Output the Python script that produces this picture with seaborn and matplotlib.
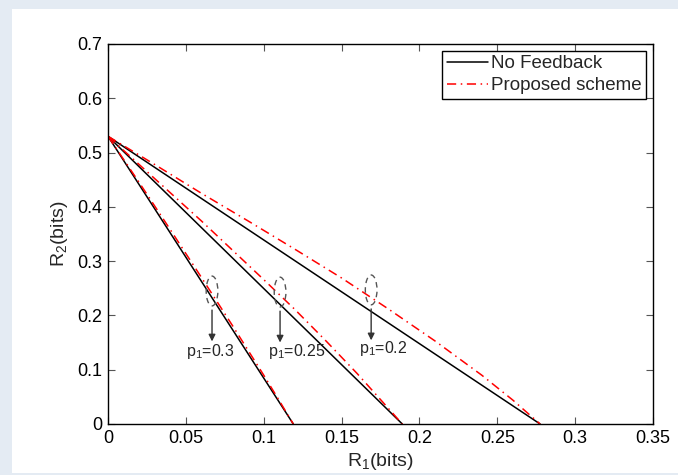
import numpy as np
import pandas as pd
import matplotlib.pyplot as plt
import seaborn as sns
from matplotlib.patches import Ellipse, Rectangle

# endepunkter for de lige linjer (uden feedback)
r2_start = 0.53
p_values = [0.3, 0.25, 0.2]
nf_end = [0.119, 0.189, 0.2775]

# foreslået skema
ps_x_03 = [0, 0.02, 0.04, 0.06, 0.08, 0.10, 0.11, 0.119]
ps_y_03 = [0.53, 0.445, 0.358, 0.270, 0.181, 0.090, 0.043, 0]
ps_x_025 = [0, 0.02, 0.04, 0.06, 0.08, 0.10, 0.12, 0.14, 0.16, 0.175, 0.189]
ps_y_025 = [0.53, 0.478, 0.426, 0.374, 0.320, 0.266, 0.211, 0.153, 0.093, 0.045, 0]
ps_x_02 = [0, 0.03, 0.06, 0.09, 0.12, 0.15, 0.18, 0.21, 0.24, 0.26, 0.2775]
ps_y_02 = [0.53, 0.478, 0.425, 0.374, 0.322, 0.269, 0.212, 0.153, 0.090, 0.044, 0]

# annotationer: ellipse-centre og tekst
ann_x = [0.0668, 0.1105, 0.169]
ann_y = [0.245, 0.243, 0.247]
ann_labels = ["p$_1$=0.3", "p$_1$=0.25", "p$_1$=0.2"]
ann_text_x = [0.0655, 0.1215, 0.177]
ann_text_y = [0.133, 0.133, 0.140]

sns.set_theme(style="ticks")
plt.rcParams["font.family"] = ["Liberation Sans", "DejaVu Sans"]
plt.rcParams["mathtext.fontset"] = "custom"
plt.rcParams["mathtext.rm"] = "Liberation Sans"
plt.rcParams["mathtext.it"] = "Liberation Sans"

fig = plt.figure(figsize=(6.78, 4.75), dpi=100, facecolor="#e4ebf3")
fig.patches.append(Rectangle((12 / 678, 2 / 475), 1, 1 - 11 / 475,
                             transform=fig.transFigure, facecolor="white",
                             edgecolor="none", zorder=-10))
ax = fig.add_axes([108 / 678, 1 - 424 / 475, 545 / 678, 380 / 475])
ax.set_zorder(5)

for i, end in enumerate(nf_end):
    df = pd.DataFrame({"x": [0, end], "y": [r2_start, 0]})
    sns.lineplot(data=df, x="x", y="y", ax=ax, color="black", lw=1.1,
                 label="No Feedback" if i == 0 else None, sort=False)

for i, (xs, ys) in enumerate([(ps_x_03, ps_y_03), (ps_x_025, ps_y_025), (ps_x_02, ps_y_02)]):
    df = pd.DataFrame({"x": xs, "y": ys})
    sns.lineplot(data=df, x="x", y="y", ax=ax, color="red", lw=1.1,
                 linestyle=(0, (6, 3, 1, 3)),
                 label="Proposed scheme" if i == 0 else None, sort=False)

for cx, cy, lab, tx, ty in zip(ann_x, ann_y, ann_labels, ann_text_x, ann_text_y):
    ax.add_patch(Ellipse((cx, cy), 0.0075, 0.055, fill=False, edgecolor="#555555",
                         linestyle=(0, (4, 3)), lw=1.0, zorder=5))
    ax.annotate("", xy=(cx, cy - 0.098), xytext=(cx, cy - 0.03),
                arrowprops=dict(arrowstyle="-|>", color="#333333", lw=1.0,
                                mutation_scale=10))
    ax.text(tx, ty, lab, ha="center", va="center", fontsize=11.5)

ax.set_xlim(0, 0.35)
ax.set_ylim(0, 0.7)
ax.set_xticks([0, 0.05, 0.1, 0.15, 0.2, 0.25, 0.3, 0.35])
ax.set_xticklabels(["0", "0.05", "0.1", "0.15", "0.2", "0.25", "0.3", "0.35"])
ax.set_yticks([0, 0.1, 0.2, 0.3, 0.4, 0.5, 0.6, 0.7])
ax.set_yticklabels(["0", "0.1", "0.2", "0.3", "0.4", "0.5", "0.6", "0.7"])
ax.tick_params(direction="in", top=True, right=True, length=5, width=0.8,
               labelsize=13, color="#555555", labelcolor="black", pad=4)
for s in ax.spines.values():
    s.set_visible(True)
    s.set_linewidth(1.0)
    s.set_color("black")

ax.set_xlabel("R$_1$(bits)", fontsize=14, labelpad=3)
ax.set_ylabel("R$_2$(bits)", fontsize=14, labelpad=5)

ax.legend(loc="upper right", fontsize=13.5, frameon=True, fancybox=False,
          edgecolor="black", framealpha=1, borderpad=0.25, labelspacing=0.25,
          handlelength=2.2, handletextpad=0.15, borderaxespad=0.35)
ax.get_legend().get_frame().set_linewidth(1.0)

fig.savefig("out.png", dpi=100, facecolor=fig.get_facecolor())
